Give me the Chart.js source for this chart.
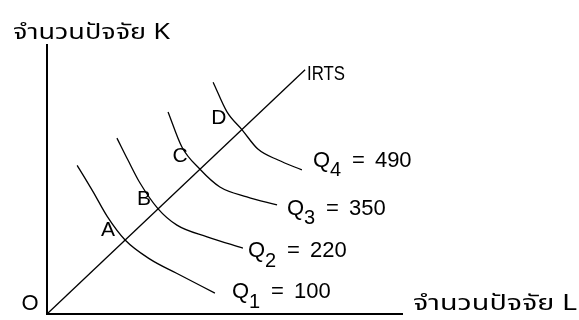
<!DOCTYPE html>
<html lang="th">
<head>
<meta charset="utf-8">
<title>Isoquant กับ IRTS</title>
<script src="https://cdn.jsdelivr.net/npm/chart.js@4.4.1/dist/chart.umd.min.js"></script>
<style>
    html, body { margin: 0; padding: 0; background: #fff; }
    #wrap { width: 579px; height: 320px; position: relative; }
</style>
</head>
<body>
<div id="wrap"><canvas id="chart"></canvas></div>
<script>
// ค่าบนแกน: L = ปัจจัยแรงงาน (แกนนอน), K = ปัจจัยทุน (แกนตั้ง)
const axisMaxL = 100;
const axisMaxK = 76;

// เส้น isoquant แต่ละเส้น เป็นคู่ [L, K]
const q1Points = [[8.5, 42], [13, 34.5], [17, 27.5], [22, 20.9], [29, 15.5], [36.5, 11.5], [47.3, 5.9]];
const q2Points = [[19.7, 49.7], [22.8, 43.5], [26.2, 37], [31.3, 29.7], [36.6, 25.1], [45.1, 21.8], [55.2, 18.6]];
const q3Points = [[34.1, 57.1], [38, 47.2], [43.1, 40.9], [48.7, 35.9], [56.3, 33.1], [64.8, 30.8]];
const q4Points = [[46.8, 65.5], [50.7, 57.1], [54.9, 52.1], [59.4, 46.6], [65.1, 43.5], [71.8, 40.7]];

// ผลผลิตของแต่ละเส้น
const outputLevels = [100, 220, 350, 490];

// เส้น IRTS จากจุดกำเนิด
const irtsPoints = [[0, 0], [72.7, 69]];

// จุดตัดของ isoquant กับเส้น IRTS
const pointNames = ['A', 'B', 'C', 'D'];
const crossPoints = [[22, 20.9], [31.3, 29.7], [43.1, 40.9], [54.9, 52.1]];

const toXY = arr => arr.map(p => ({ x: p[0], y: p[1] }));

const FONT = '"Liberation Sans", Arial, sans-serif';
const THAI_FONT = '"Noto Sans Thai", "Loma", "Garuda", "Tlwg Typo", sans-serif';

// ข้อความภาษาไทยยืดให้ได้ความกว้างที่ต้องการ
function fitText(ctx, text, x, y, width) {
    const w = ctx.measureText(text).width;
    ctx.save();
    ctx.translate(x, y);
    ctx.scale(width / w, 1);
    ctx.fillText(text, 0, 0);
    ctx.restore();
}

// วาดข้อความทั้งหมดหลังเส้นกราฟ
const labelPlugin = {
    id: 'isoLabels',
    afterDatasetsDraw(chart) {
        const ctx = chart.ctx;
        const sx = chart.scales.x, sy = chart.scales.y;
        const area = chart.chartArea;
        ctx.save();
        ctx.fillStyle = '#000';
        ctx.textBaseline = 'middle';

        // ชื่อจุดตัด A-D
        const letterShift = [[-17, -10], [-14, -10], [-20, -13], [-23, -11]];
        ctx.font = '21px ' + FONT;
        ctx.textAlign = 'center';
        crossPoints.forEach((p, i) => {
            ctx.fillText(pointNames[i],
                sx.getPixelForValue(p[0]) + letterShift[i][0],
                sy.getPixelForValue(p[1]) + letterShift[i][1]);
        });

        // ป้ายชื่อ Q ที่ปลายเส้น
        const ends = [q1Points, q2Points, q3Points, q4Points].map(a => a[a.length - 1]);
        const qShift = [[17, -1], [5, 3], [10, 4], [11, -9]];
        ctx.textAlign = 'left';
        ends.forEach((p, i) => {
            const x = sx.getPixelForValue(p[0]) + qShift[i][0];
            const y = sy.getPixelForValue(p[1]) + qShift[i][1];
            ctx.font = '22px ' + FONT;
            ctx.fillText('Q', x, y);
            ctx.font = '20px ' + FONT;
            ctx.fillText(String(i + 1), x + 17, y + 10);
            ctx.font = '22px ' + FONT;
            ctx.fillText('=', x + 39, y);
            ctx.fillText(String(outputLevels[i]), x + 62, y);
        });

        // ป้าย IRTS
        const last = irtsPoints[irtsPoints.length - 1];
        ctx.save();
        ctx.translate(sx.getPixelForValue(last[0]) + 2, sy.getPixelForValue(last[1]) + 4);
        ctx.scale(0.8, 1);
        ctx.font = '21px ' + FONT;
        ctx.fillText('IRTS', 0, 0);
        ctx.restore();

        // ป้ายชื่อ O ที่จุดกำเนิด
        ctx.textAlign = 'center';
        ctx.font = '22px ' + FONT;
        ctx.fillText('O', area.left - 17, area.bottom - 10);

        // ชื่อแกน
        ctx.textAlign = 'left';
        ctx.textBaseline = 'alphabetic';
        ctx.font = '22px ' + THAI_FONT;
        fitText(ctx, 'จำนวนปัจจัย K', area.left - 34, area.top - 6, 157);
        fitText(ctx, 'จำนวนปัจจัย L', area.right + 11, area.bottom - 4, 164);
        ctx.restore();
    }
};

const lineStyle = {
    showLine: true,
    borderColor: '#000',
    borderWidth: 1.3,
    pointRadius: 0,
    pointHoverRadius: 0,
    pointBorderWidth: 0,
    fill: false,
    cubicInterpolationMode: 'monotone',
    clip: false
};

const hiddenGrid = { display: false, drawTicks: false, tickLength: 0 };

const chart = new Chart(document.getElementById('chart'), {
    type: 'scatter',
    data: {
        datasets: [
            Object.assign({ label: 'Q1', data: toXY(q1Points) }, lineStyle),
            Object.assign({ label: 'Q2', data: toXY(q2Points) }, lineStyle),
            Object.assign({ label: 'Q3', data: toXY(q3Points) }, lineStyle),
            Object.assign({ label: 'Q4', data: toXY(q4Points) }, lineStyle),
            Object.assign({ label: 'IRTS', data: toXY(irtsPoints) }, lineStyle, { tension: 0 })
        ]
    },
    options: {
        responsive: true,
        maintainAspectRatio: false,
        animation: false,
        layout: { autoPadding: false, padding: { left: 47, right: 177, top: 45, bottom: 6 } },
        plugins: {
            legend: { display: false },
            tooltip: { enabled: false }
        },
        scales: {
            x: {
                type: 'linear',
                min: 0,
                max: axisMaxL,
                grid: hiddenGrid,
                ticks: { display: false },
                border: { display: true, color: '#000', width: 2 }
            },
            y: {
                type: 'linear',
                min: 0,
                max: axisMaxK,
                grid: hiddenGrid,
                ticks: { display: false },
                border: { display: true, color: '#000', width: 2 }
            }
        }
    },
    plugins: [labelPlugin]
});
</script>
</body>
</html>
